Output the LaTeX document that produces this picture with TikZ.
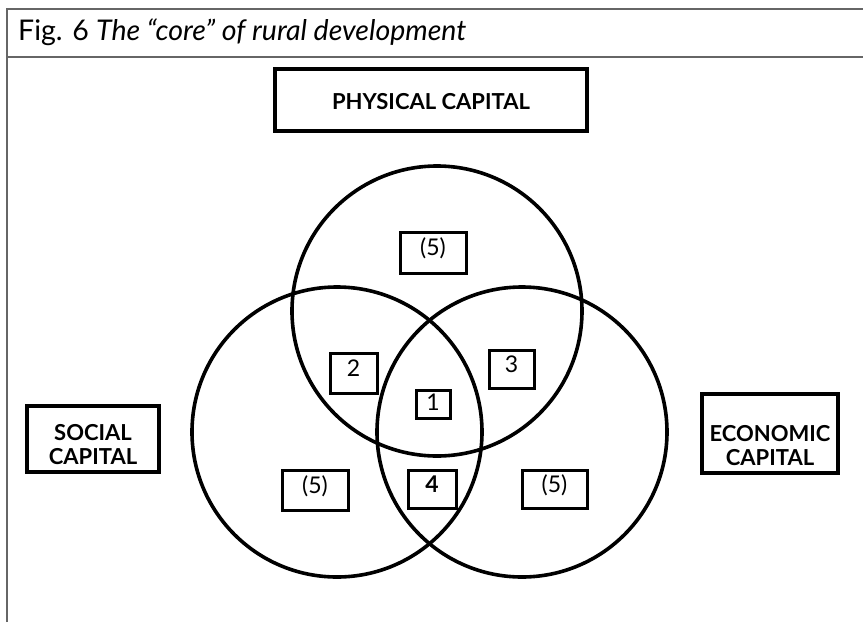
\documentclass[tikz,border=0pt]{standalone}
\usepackage{fontspec}
\setmainfont{Lato}
\usepackage{tikz}

\tikzset{
  figframe/.style={draw=black!60,line width=1.4pt},
  venn/.style={circle,draw,line width=3.6pt,minimum size=290pt,inner sep=0pt},
  capbox/.style={draw,line width=3.6pt,inner sep=0pt},
  captext/.style={align=center,inner sep=0pt,font=\fontsize{22}{24}\selectfont\bfseries},
  numbox/.style={draw,line width=3pt,inner sep=0pt,text height=17pt,text depth=11pt,font=\fontsize{23}{25}\selectfont}
}

\begin{document}
\begin{tikzpicture}[x=1pt,y=1pt,yscale=-1,xscale=1]
\useasboundingbox (0,0) rectangle (863,622);

%Frame
\draw[figframe] (7,622) -- (7,9) -- (863,9) ;
\draw[figframe] (7,57) -- (863,57) ;

% Title
\node[anchor=base west,inner sep=0pt,font=\fontsize{28.5}{31}\selectfont] (title) at (18,40) {Fig. 6 \textit{The “core” of rural development}};

%Shape: Circles
\node[venn] (physc) at (437,311) {};
\node[venn] (socc) at (337,432) {};
\node[venn] (econc) at (522,432) {};

% Capital boxes
\node[capbox,minimum width=312pt,minimum height=62pt] (phys) at (431,100) {};
\node[captext] (physt) at (431,102) {PHYSICAL CAPITAL};
\node[capbox,minimum width=132pt,minimum height=66pt] (soc) at (93,439) {};
\node[captext] (soct) at (93,445) {SOCIAL\\CAPITAL};
\node[capbox,minimum width=136pt,minimum height=79pt] (econ) at (770,433.5) {};
\node[captext] (econt) at (770,446) {ECONOMIC\\CAPITAL};

% Numbered boxes
\node[numbox,minimum width=66pt,minimum height=41pt] (topv) at (433,252.5) {(5)};
\node[numbox,minimum width=47pt,minimum height=40pt] (two) at (353.5,373) {2};
\node[numbox,minimum width=45pt,minimum height=38pt] (three) at (511.5,369) {3};
\node[numbox,minimum width=34pt,minimum height=28pt,text height=16pt,text depth=3pt] (one) at (433,404) {1};
\node[numbox,minimum width=48pt,minimum height=38pt,font=\fontsize{23}{25}\selectfont\bfseries] (four) at (432,489) {4};
\node[numbox,minimum width=66pt,minimum height=40pt] (leftv) at (315,490) {(5)};
\node[numbox,minimum width=65pt,minimum height=38pt] (rightv) at (554.5,489) {(5)};

\end{tikzpicture}
\end{document}
